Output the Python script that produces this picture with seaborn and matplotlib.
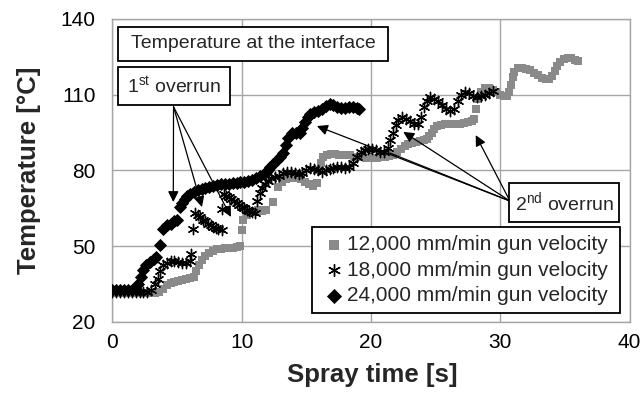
import matplotlib
matplotlib.use("Agg")
import matplotlib.pyplot as plt
from matplotlib.patches import Rectangle
import seaborn as sns
import pandas as pd

# ---------------- data ----------------
gray_t = [0.0, 0.3, 0.6, 0.9, 1.2, 1.5, 1.8, 2.1, 2.4, 2.7,
          3.0, 3.3, 3.6, 3.9, 4.2, 4.5, 4.8, 5.1, 5.4, 5.7,
          6.0, 6.3, 6.5, 6.7, 6.9, 7.2, 7.5, 7.8, 8.1, 8.4,
          8.7, 9.0, 9.3, 9.6, 9.9, 10.0, 10.1, 10.4, 10.7, 11.0,
          11.3, 11.6, 11.9, 12.4, 12.8, 13.1, 13.4, 13.7, 14.0, 14.3,
          14.6, 14.9, 15.2, 15.5, 15.8, 16.0, 16.1, 16.3, 16.6, 16.9,
          17.2, 17.5, 17.8, 18.1, 18.4, 18.7, 19.0, 19.3, 19.6, 19.9,
          20.2, 20.5, 20.8, 21.1, 21.4, 21.7, 22.0, 22.3, 22.6, 22.9,
          23.2, 23.5, 23.8, 24.1, 24.3, 24.5, 24.7, 24.9, 25.1, 25.4,
          25.7, 26.0, 26.3, 26.6, 26.9, 27.2, 27.5, 27.8, 28.0, 28.1,
          28.3, 28.5, 28.8, 29.1, 29.4, 29.7, 30.0, 30.3, 30.5, 30.7,
          30.85, 30.95, 31.1, 31.4, 31.7, 32.0, 32.3, 32.6, 32.9, 33.2,
          33.5, 33.8, 34.0, 34.2, 34.4, 34.6, 34.9, 35.2, 35.5, 35.8,
          36.0]
gray_T = [31.5, 31.5, 31.5, 31.5, 31.5, 31.5, 31.5, 31.5, 31.5, 31.5,
          31.5, 31.5, 32, 33, 34.5, 35.5, 36, 36.3, 36.6, 37,
          37.5, 38, 40, 42.5, 44.5, 46, 47.5, 48.3, 48.8, 49,
          49.2, 49.3, 49.3, 49.5, 50, 56.6, 60.5, 62.5, 63.5, 64,
          64.2, 64, 64.5, 67.4, 73.3, 75.5, 76.5, 77, 77.3, 77,
          76.5, 75.5, 74.5, 74, 75, 80, 83, 85.2, 86, 86.5,
          86.5, 86.3, 86, 86, 86, 85.5, 85.5, 85.3, 85, 85,
          85, 85, 85.2, 85.5, 85.8, 86.3, 87.3, 88.5, 89.5, 90.3,
          90.8, 91.1, 91.5, 92, 92.4, 93.5, 95, 96.5, 97.6, 98.1,
          98.3, 98.4, 98.4, 98.5, 98.5, 98.8, 99, 99.5, 100.5, 104.5,
          108.5, 111, 112.5, 112.5, 112, 111, 110, 109.3, 109.5, 111,
          114, 117, 119, 120.5, 120.6, 120.2, 119.6, 118.7, 117.7, 116.8,
          116.2, 116.3, 117.5, 119.5, 121.5, 123, 124, 124.4, 124.4, 123.8,
          123.2]

star_t = [0.0, 0.3, 0.6, 0.9, 1.2, 1.5, 1.8, 2.1, 2.4, 2.7,
          3.0, 3.3, 3.5, 3.7, 3.9, 4.2, 4.5, 4.8, 5.1, 5.4,
          5.7, 6.0, 6.1, 6.25, 6.4, 6.6, 6.8, 7.0, 7.2, 7.4,
          7.6, 7.8, 8.0, 8.2, 8.45, 8.5, 8.6, 8.8, 9.0, 9.2,
          9.4, 9.6, 9.8, 10.0, 10.2, 10.4, 10.6, 10.8, 11.0, 11.2,
          11.4, 11.6, 11.8, 12.0, 12.3, 12.6, 12.9, 13.2, 13.5, 13.8,
          14.1, 14.4, 14.7, 15.0, 15.3, 15.6, 15.9, 16.2, 16.5, 16.8,
          17.1, 17.4, 17.7, 18.0, 18.3, 18.6, 18.9, 19.2, 19.5, 19.8,
          20.1, 20.4, 20.7, 21.0, 21.3, 21.5, 21.7, 21.9, 22.1, 22.4,
          22.7, 23.0, 23.3, 23.6, 23.9, 24.1, 24.3, 24.6, 24.9, 25.2,
          25.5, 25.8, 26.1, 26.4, 26.7, 27.0, 27.3, 27.6, 27.9, 28.2,
          28.5, 28.8, 29.1, 29.4]
star_T = [32, 32, 32, 32, 32, 32, 32, 32, 32, 32,
          32.5, 35, 37, 40, 42.5, 43.5, 44, 44, 43.8, 43.5,
          43.5, 44, 47, 57, 63, 62.5, 61.5, 60.5, 59.8, 59,
          58.3, 57.8, 57.2, 56.7, 56.3, 64.8, 70.5, 70, 69.3, 68.6,
          67.8, 67, 66.3, 65.6, 65, 64.3, 63.8, 63.4, 63.2, 68,
          71, 73, 74.5, 76, 77, 77.5, 78, 79, 79.5, 79.5,
          79, 78.5, 79, 80, 81, 80.5, 80, 79.5, 80, 80.5,
          81, 81.5, 81.5, 81, 81.5, 83, 85.5, 87.5, 88.3, 88.5,
          88.5, 88, 87.5, 87.3, 89, 92, 95, 98, 100, 101,
          100.5, 99.5, 98.5, 98.3, 101, 105, 107.5, 109, 108.5, 107.5,
          106, 104.5, 103.5, 104.5, 107.5, 110, 111, 110.5, 109.5, 109,
          109.5, 110, 110.8, 111.5]

dia_t = [0.0, 0.3, 0.6, 0.9, 1.2, 1.5, 1.8, 2.0, 2.2, 2.4,
         2.6, 2.9, 3.2, 3.4, 3.7, 3.9, 4.2, 4.5, 4.8, 5.0,
         5.2, 5.4, 5.6, 5.8, 6.0, 6.3, 6.6, 6.9, 7.2, 7.5,
         7.8, 8.1, 8.4, 8.7, 9.0, 9.3, 9.6, 9.9, 10.2, 10.5,
         10.8, 11.1, 11.4, 11.7, 12.0, 12.2, 12.4, 12.7, 13.0, 13.2,
         13.4, 13.6, 13.9, 14.2, 14.5, 14.7, 14.9, 15.1, 15.3, 15.6,
         15.9, 16.2, 16.5, 16.8, 17.1, 17.4, 17.7, 18.0, 18.3, 18.6,
         18.9, 19.1]
dia_T = [32.5, 32.5, 32.5, 32.5, 32.5, 32.5, 33, 35, 38, 40.6,
         42.5, 43.8, 45, 45.8, 50.4, 57, 58.5, 59, 60, 60.2,
         65.5, 67, 68.8, 70, 70.7, 71.5, 72.2, 72.7, 73, 73.5,
         74, 74.2, 74.5, 74.7, 74.8, 75, 75, 75.3, 75.5, 75.8,
         76.3, 77, 77.7, 78.6, 80, 81.5, 82.6, 84, 85.5, 87,
         90, 93, 95, 94.8, 95, 97, 99.3, 101, 102.5, 103.2,
         103.7, 104.5, 105.5, 106.2, 106, 105.2, 104.8, 104.8, 105, 105,
         104.8, 104.5]

series_labels = ["12,000 mm/min gun velocity",
                 "18,000 mm/min gun velocity",
                 "24,000 mm/min gun velocity"]
x_ticks = [0, 10, 20, 30, 40]
y_ticks = [20, 50, 80, 110, 140]

# ---------------- style ----------------
sns.set_theme(style="white")
plt.rcParams["font.family"] = ["Liberation Sans", "DejaVu Sans"]
plt.rcParams["mathtext.fontset"] = "custom"
plt.rcParams["mathtext.rm"] = "Liberation Sans"
plt.rcParams["mathtext.it"] = "Liberation Sans:italic"
plt.rcParams["mathtext.bf"] = "Liberation Sans:bold"

GRID = "#a6a6a6"
fig = plt.figure(figsize=(6.4, 3.96), dpi=100)
fig.patch.set_facecolor("white")
ax = fig.add_axes([0.1756, 0.1869, 0.8081, 0.7652])

df_g = pd.DataFrame({"t": gray_t, "T": gray_T})
df_s = pd.DataFrame({"t": star_t, "T": star_T})
df_d = pd.DataFrame({"t": dia_t, "T": dia_T})

sns.scatterplot(data=df_g, x="t", y="T", marker="s", color="#8a8a8a",
                s=36, linewidth=0, ax=ax, label=series_labels[0], zorder=3)
sns.scatterplot(data=df_s, x="t", y="T", marker=(6, 2, 0), color="black",
                s=55, linewidth=1.0, ax=ax, label=series_labels[1], zorder=4)
sns.scatterplot(data=df_d, x="t", y="T", marker="D", color="black",
                s=45, linewidth=0, ax=ax, label=series_labels[2], zorder=5)

ax.set_xlim(0, 40)
ax.set_ylim(20, 140)
ax.set_xticks(x_ticks)
ax.set_yticks(y_ticks)
ax.grid(True, color=GRID, lw=1.0, zorder=0)
ax.set_axisbelow(True)
for sp in ax.spines.values():
    sp.set_color(GRID)
    sp.set_linewidth(1.0)
ax.tick_params(axis="both", direction="out", length=5, width=1,
               color=GRID, labelsize=15, labelcolor="black")
ax.tick_params(axis="y", pad=7)
ax.tick_params(axis="x", pad=3)

ax.set_xlabel("Spray time [s]", fontsize=18.5, fontweight="bold")
ax.set_ylabel("Temperature [°C]", fontsize=18.5, fontweight="bold")
ax.xaxis.set_label_coords(0.502, -0.135)
ax.yaxis.set_label_coords(-0.138, 0.5)

# legend with an explicit square frame
lx0, ly0, lx1, ly1 = 0.3853, 0.0287, 0.9807, 0.3125
ax.add_patch(Rectangle((lx0, ly0), lx1 - lx0, ly1 - ly0, transform=ax.transAxes,
                       facecolor="white", edgecolor="black", lw=1.3,
                       zorder=9, clip_on=False))
leg = ax.legend(loc="center", bbox_to_anchor=((lx0 + lx1) / 2, (ly0 + ly1) / 2),
                borderaxespad=0, frameon=False, fontsize=15,
                handletextpad=0.1, handlelength=1.0, markerscale=1.15,
                labelspacing=0.32, borderpad=0)
leg.set_zorder(10)

# text boxes (axes fractions)
def box(x0, y0, x1, y1, txt):
    ax.add_patch(Rectangle((x0, y0), x1 - x0, y1 - y0, transform=ax.transAxes,
                           facecolor="white", edgecolor="black", lw=1.3,
                           zorder=8, clip_on=False))
    ax.text((x0 + x1) / 2, (y0 + y1) / 2, txt, transform=ax.transAxes,
            ha="center", va="center", fontsize=14, zorder=9)

box(0.0114, 0.8624, 0.5335, 0.9726, "Temperature at the interface")
box(0.0114, 0.7162, 0.2274, 0.8406, "1$^{\\mathrm{st}}$ overrun")
box(0.7674, 0.3310, 0.9801, 0.4578, "2$^{\\mathrm{nd}}$ overrun")

# arrows
aprops = dict(arrowstyle="-|>", color="black", lw=0.9, mutation_scale=16,
              shrinkA=0, shrinkB=0)
first_src = (4.73, 105.2)
for tip in [(4.71, 67.5), (6.93, 65.5), (9.17, 61.6)]:
    ax.annotate("", xy=tip, xytext=first_src, arrowprops=aprops, zorder=7)
second_src = (30.75, 67.9)
for tip in [(15.82, 97.6), (22.5, 95.3), (28.1, 94.0)]:
    ax.annotate("", xy=tip, xytext=second_src, arrowprops=aprops, zorder=7)
ax.annotate("", xy=(21.47, 86.9), xytext=second_src,
            arrowprops=dict(arrowstyle="-", color="black", lw=0.9,
                            shrinkA=0, shrinkB=0), zorder=7)

fig.savefig("out.png", dpi=100)
